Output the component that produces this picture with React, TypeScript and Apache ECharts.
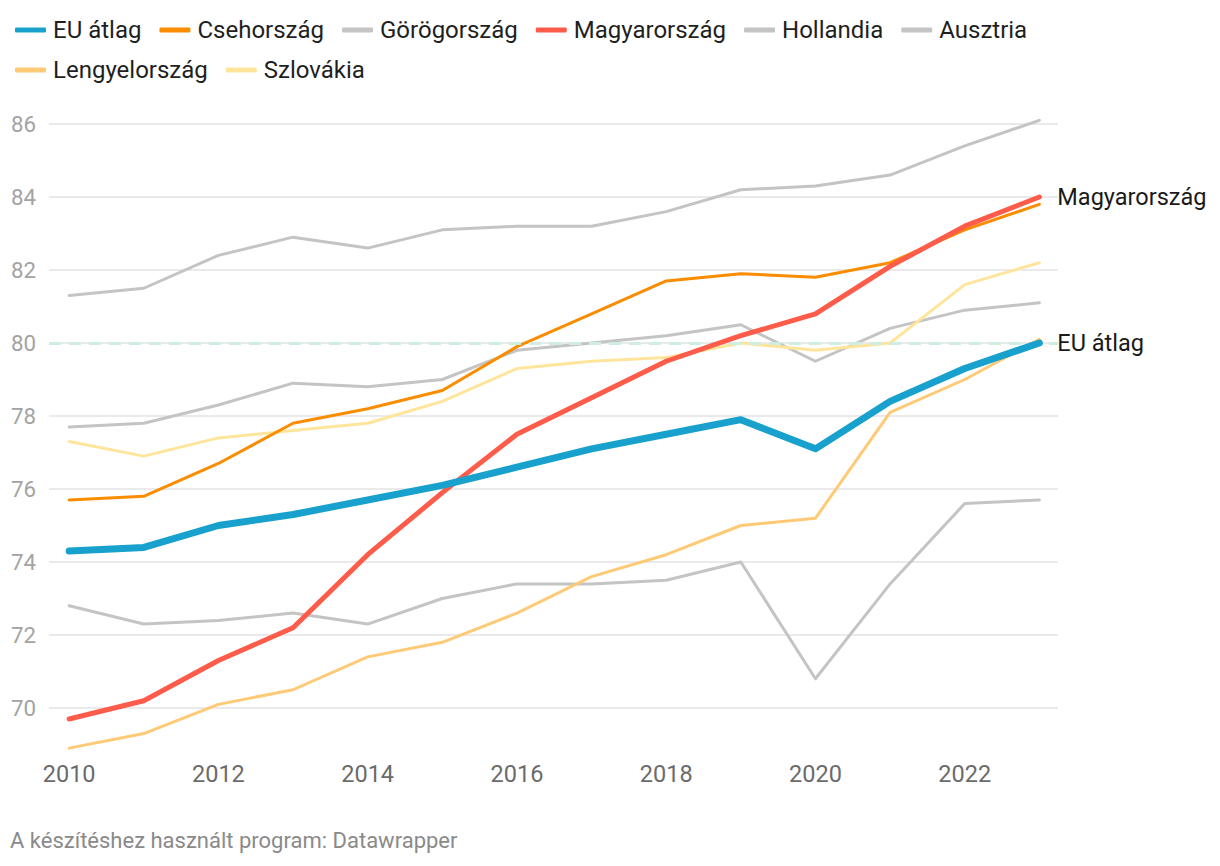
import React, { useEffect, useRef } from "react";
import * as echarts from "echarts";

const years = [2010, 2011, 2012, 2013, 2014, 2015, 2016, 2017, 2018, 2019, 2020, 2021, 2022, 2023];
const xTickLabels = [2010, 2012, 2014, 2016, 2018, 2020, 2022];

const euAtlag = [74.3, 74.4, 75.0, 75.3, 75.7, 76.1, 76.6, 77.1, 77.5, 77.9, 77.1, 78.4, 79.3, 80.0];
const csehorszag = [75.7, 75.8, 76.7, 77.8, 78.2, 78.7, 79.9, 80.8, 81.7, 81.9, 81.8, 82.2, 83.1, 83.8];
const gorogorszag = [72.8, 72.3, 72.4, 72.6, 72.3, 73.0, 73.4, 73.4, 73.5, 74.0, 70.8, 73.4, 75.6, 75.7];
const magyarorszag = [69.7, 70.2, 71.3, 72.2, 74.2, 75.9, 77.5, 78.5, 79.5, 80.2, 80.8, 82.1, 83.2, 84.0];
const hollandia = [81.3, 81.5, 82.4, 82.9, 82.6, 83.1, 83.2, 83.2, 83.6, 84.2, 84.3, 84.6, 85.4, 86.1];
const ausztria = [77.7, 77.8, 78.3, 78.9, 78.8, 79.0, 79.8, 80.0, 80.2, 80.5, 79.5, 80.4, 80.9, 81.1];
const lengyelorszag = [68.9, 69.3, 70.1, 70.5, 71.4, 71.8, 72.6, 73.6, 74.2, 75.0, 75.2, 78.1, 79.0, 80.1];
const szlovakia = [77.3, 76.9, 77.4, 77.6, 77.8, 78.4, 79.3, 79.5, 79.6, 80.0, 79.8, 80.0, 81.6, 82.2];

const referenceValue = 80;
const legendRow1 = ["EU átlag", "Csehország", "Görögország", "Magyarország", "Hollandia", "Ausztria"];
const legendRow2 = ["Lengyelország", "Szlovákia"];

const FONT = "Roboto, 'Noto Sans', sans-serif";

function pairs(vals: number[]) {
  return years.map((y, i) => [y, vals[i]]);
}

function lineSeries(name: string, vals: number[], color: string, width: number, z: number, endLabel = false) {
  return {
    name,
    type: "line",
    data: pairs(vals),
    color,
    showSymbol: false,
    symbol: "none",
    clip: false,
    z,
    lineStyle: { color, width, cap: "round", join: "round" },
    emphasis: { disabled: true },
    endLabel: endLabel
      ? {
          show: true,
          formatter: "{a}",
          color: "#1a1a1a",
          fontSize: 23.5,
          fontFamily: FONT,
          distance: 18,
        }
      : { show: false },
  };
}

function legendBase(data: string[], top: number) {
  return {
    data,
    left: 10,
    top,
    orient: "horizontal",
    icon: "roundRect",
    itemWidth: 31,
    itemHeight: 5,
    itemGap: 18,
    textStyle: {
      fontSize: 24,
      lineHeight: 24,
      color: "#1f1f1f",
      fontFamily: FONT,
      padding: [0, 0, 0, 2],
    },
    selectedMode: false,
  };
}

export default function App() {
  const ref = useRef<HTMLDivElement>(null);

  useEffect(() => {
    if (!ref.current) return;
    const chart = echarts.init(ref.current, undefined, { renderer: "svg" });
    chart.setOption({
      animation: false,
      backgroundColor: "#ffffff",
      textStyle: { fontFamily: FONT },
      legend: [legendBase(legendRow1, 13), legendBase(legendRow2, 53)],
      grid: { left: 49, right: 162, top: 124, bottom: 158, containLabel: false },
      xAxis: {
        type: "value",
        min: 2009.73,
        max: 2023.25,
        axisLine: { show: false },
        axisTick: { show: false },
        splitLine: { show: false },
        axisLabel: {
          customValues: xTickLabels,
          formatter: (v: number) => String(v),
          color: "#6b6b6b",
          fontSize: 23.5,
          fontFamily: FONT,
          margin: 54,
        },
      },
      yAxis: {
        type: "value",
        min: 70,
        max: 86,
        interval: 2,
        axisLine: { show: false },
        axisTick: { show: false },
        splitLine: { show: true, lineStyle: { color: "#e3e3e3", width: 1.5 } },
        axisLabel: { color: "#a3a3a3", fontSize: 22.3, fontFamily: FONT, margin: 13 },
      },
      series: [
        {
          name: "ref",
          type: "line",
          data: [],
          z: 1,
          markLine: {
            silent: true,
            symbol: "none",
            label: { show: false },
            lineStyle: { type: [12, 8], color: "#cfeee2", width: 3 },
            data: [{ yAxis: referenceValue }],
          },
        },
        lineSeries("Görögország", gorogorszag, "#c4c4c4", 3, 2),
        lineSeries("Hollandia", hollandia, "#c4c4c4", 3, 2),
        lineSeries("Ausztria", ausztria, "#c4c4c4", 3, 2),
        lineSeries("Szlovákia", szlovakia, "#ffe59c", 3, 3),
        lineSeries("Lengyelország", lengyelorszag, "#ffca76", 3, 3),
        lineSeries("Csehország", csehorszag, "#fa8c00", 3, 4),
        lineSeries("Magyarország", magyarorszag, "#fe5c4a", 5, 5, true),
        lineSeries("EU átlag", euAtlag, "#18a1cd", 7, 6, true),
      ],
    });
    return () => chart.dispose();
  }, []);

  return (
    <div style={{ position: "relative", width: 1204, height: 850 }}>
      <div ref={ref} style={{ position: "absolute", left: -8, top: -8, width: 1220, height: 866 }} />
      <div
        style={{
          position: "absolute",
          left: 2,
          top: 820,
          fontFamily: FONT,
          fontSize: 22,
          color: "#8a8a8a",
          whiteSpace: "nowrap",
        }}
      >
        A készítéshez használt program: Datawrapper
      </div>
    </div>
  );
}
